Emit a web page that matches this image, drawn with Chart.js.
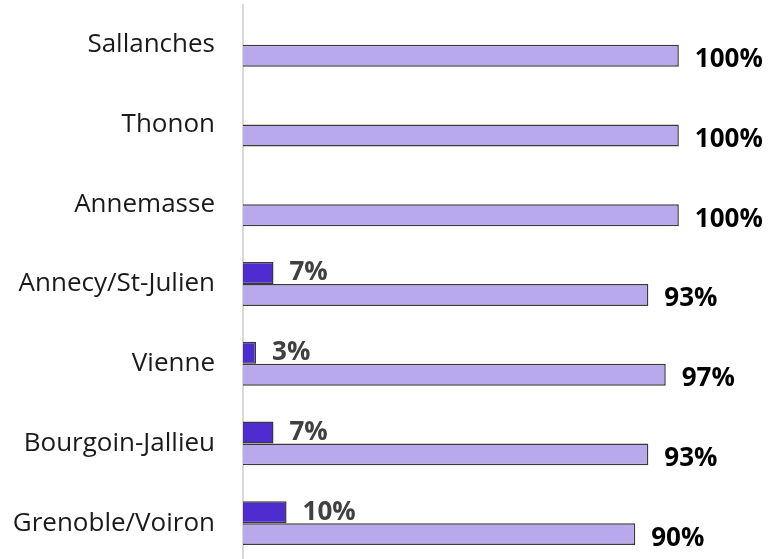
<!DOCTYPE html>
<html>
<head>
<meta charset="utf-8">
<script src="https://cdn.jsdelivr.net/npm/chart.js@4"></script>
<style>
    html, body { margin: 0; padding: 0; background: #fff; overflow: hidden; }
    canvas { display: block; }
</style>
</head>
<body>
<canvas id="chart" width="775" height="563"></canvas>
<script>
// Sites, top to bottom
const sites = ['Sallanches', 'Thonon', 'Annemasse', 'Annecy/St-Julien', 'Vienne', 'Bourgoin-Jallieu', 'Grenoble/Voiron'];
// Small share (dark bars), no bar for the first three sites
const smallShare = [null, null, null, 7, 3, 7, 10];
// Main share (light bars)
const mainShare = [100, 100, 100, 93, 97, 93, 90];

const colors = {
    dark: '#4f2ccf',
    light: '#b8a9ec',
    outline: '#3a3a3a',
    axis: '#d9d9d9',
    text: '#1a1a1a',
    darkLabel: '#404040'
};

const labelFont = 'bold 26px "Open Sans", sans-serif';

function drawLabels(chart, dsIndex, color, dx, dy) {
    const ctx = chart.ctx;
    const meta = chart.getDatasetMeta(dsIndex);
    const values = chart.data.datasets[dsIndex].data;
    ctx.save();
    ctx.font = labelFont;
    ctx.fillStyle = color;
    ctx.textAlign = 'left';
    ctx.textBaseline = 'middle';
    meta.data.forEach((bar, i) => {
        if (values[i] === null) return;
        ctx.fillText(values[i] + '%', bar.x + dx, bar.y + dy);
    });
    ctx.restore();
}

// dark labels sit under the light bars, light labels on top
const valueLabels = {
    id: 'valueLabels',
    beforeDatasetsDraw(chart) {
        drawLabels(chart, 0, colors.darkLabel, 16, 0);
    },
    afterDatasetsDraw(chart) {
        drawLabels(chart, 1, '#000', 16, 4);
    }
};

new Chart(document.getElementById('chart'), {
    type: 'bar',
    data: {
        labels: sites,
        datasets: [{
            label: 'small',
            data: smallShare,
            backgroundColor: colors.dark,
            borderColor: colors.outline,
            borderWidth: 1.5,
            borderSkipped: 'left',
            categoryPercentage: 0.55,
            barPercentage: 1
        }, {
            label: 'main',
            data: mainShare,
            backgroundColor: colors.light,
            borderColor: colors.outline,
            borderWidth: 1.5,
            borderSkipped: 'left',
            categoryPercentage: 0.55,
            barPercentage: 1
        }]
    },
    options: {
        indexAxis: 'y',
        responsive: false,
        animation: false,
        layout: { padding: { top: 5, right: 9, bottom: 0, left: 0 } },
        plugins: {
            legend: { display: false },
            tooltip: { enabled: false }
        },
        scales: {
            x: {
                display: false,
                min: 0,
                max: 120
            },
            y: {
                grid: { display: false, drawTicks: false },
                border: { display: true, color: colors.axis, width: 2 },
                ticks: {
                    color: colors.text,
                    padding: 28,
                    font: { family: '"Open Sans", sans-serif', size: 26 }
                },
                afterFit(scale) {
                    scale.width = 243;
                    // tick padding should not eat vertical room
                    scale.paddingTop = 0;
                    scale.paddingBottom = 0;
                }
            }
        }
    },
    plugins: [valueLabels]
});
</script>
</body>
</html>
